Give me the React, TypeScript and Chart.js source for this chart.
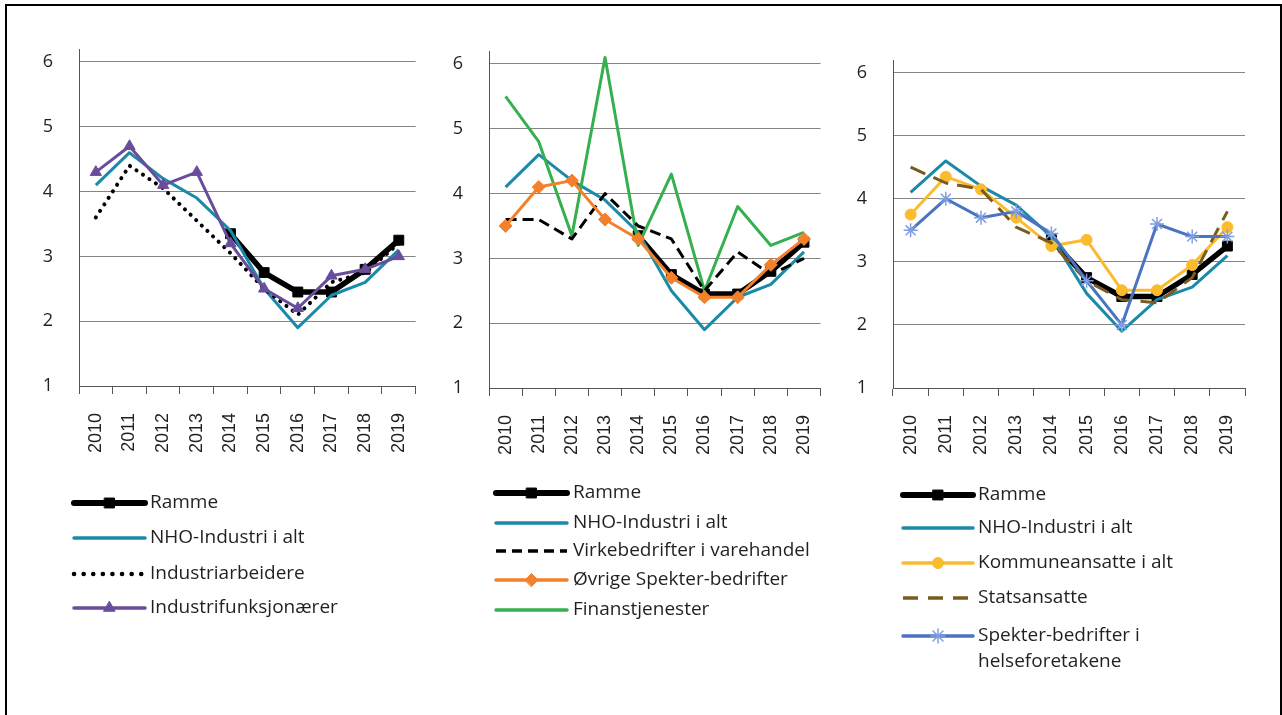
import React, { useEffect, useRef } from "react";
import { Chart, registerables } from "chart.js";
import { drawPoint } from "chart.js/helpers";

Chart.register(...registerables);

// ---------- data ----------
const years = ["2010", "2011", "2012", "2013", "2014", "2015", "2016", "2017", "2018", "2019"];
const yTickValues = [1, 2, 3, 4, 5, 6];

const ramme = [null, null, null, null, 3.35, 2.75, 2.45, 2.45, 2.8, 3.25];
const nhoIndustri = [4.1, 4.6, 4.2, 3.9, 3.4, 2.5, 1.9, 2.4, 2.6, 3.1];
const industriarbeidere = [3.6, 4.4, 4.05, 3.55, 3.05, 2.5, 2.1, 2.6, 2.75, 3.2];
const industrifunksjonaerer = [4.3, 4.7, 4.1, 4.3, 3.2, 2.5, 2.2, 2.7, 2.8, 3.0];
const virkeVarehandel = [3.6, 3.6, 3.3, 4.0, 3.5, 3.3, 2.5, 3.1, 2.75, 3.0];
const ovrigeSpekter = [3.5, 4.1, 4.2, 3.6, 3.3, 2.7, 2.4, 2.4, 2.9, 3.3];
const finanstjenester = [5.5, 4.8, 3.35, 6.1, 3.2, 4.3, 2.5, 3.8, 3.2, 3.4];
const kommuneansatte = [3.75, 4.35, 4.15, 3.7, 3.25, 3.35, 2.55, 2.55, 2.95, 3.55];
const statsansatte = [4.5, 4.25, 4.15, 3.55, 3.3, 2.7, 2.4, 2.35, 2.75, 3.8];
const spekterHelse = [3.5, 4.0, 3.7, 3.8, 3.45, 2.7, 2.0, 3.6, 3.4, 3.4];

// ---------- styles ----------
type Style = {
  color: string;
  width: number;
  dash?: number[];
  cap?: CanvasLineCap;
  point?: string;
  radius?: number;
  pointStroke?: string;
  pointBorder?: number;
  legendWidth?: number;
  legendDash?: number[];
};

const sRamme: Style = { color: "#000000", width: 5.5, cap: "round", point: "rect", radius: 7, pointBorder: 1, legendWidth: 6 };
const sNho: Style = { color: "#1b8aa8", width: 3, legendWidth: 3.5 };
const sArb: Style = { color: "#000000", width: 4, dash: [0.1, 7.7], cap: "round", legendWidth: 4.5, legendDash: [0.1, 9.5] };
const sFunk: Style = { color: "#6a4c9c", width: 3, point: "triangle", radius: 6.5, pointBorder: 1, legendWidth: 3.5 };
const sVirke: Style = { color: "#000000", width: 3, dash: [11, 6], legendWidth: 3.5, legendDash: [10, 6] };
const sOvrige: Style = { color: "#f3802b", width: 3, point: "rectRot", radius: 6.5, pointBorder: 1, legendWidth: 3.5 };
const sFinans: Style = { color: "#36b04f", width: 3, legendWidth: 3.5 };
const sKommune: Style = { color: "#fbbb2e", width: 3, point: "circle", radius: 5.5, pointBorder: 1, legendWidth: 3.5 };
const sStat: Style = { color: "#7a5b1f", width: 3, dash: [16, 9], legendWidth: 3.5, legendDash: [15, 10] };
const sHelse: Style = { color: "#4a74c2", width: 3, point: "star", radius: 7, pointStroke: "#7f9de0", pointBorder: 1.5, legendWidth: 3.5 };

function makeDataset(label: string, data: (number | null)[], s: Style, order: number, legendLines?: string[]) {
  return {
    label,
    data,
    borderColor: s.color,
    backgroundColor: s.color,
    borderWidth: s.width,
    borderDash: s.dash || [],
    borderCapStyle: s.cap || "butt",
    borderJoinStyle: "round",
    pointStyle: s.point || "circle",
    pointRadius: s.point ? s.radius : 0,
    pointHoverRadius: s.point ? s.radius : 0,
    pointBackgroundColor: s.color,
    pointBorderColor: s.pointStroke || s.color,
    pointBorderWidth: s.pointBorder ?? 1,
    tension: 0,
    fill: false,
    order,
    legendStyle: s,
    legendLines: legendLines || [label],
  };
}

// ---------- legend plugin ----------
const legendPlugin = {
  id: "customLegend",
  afterDraw(chart: any, _args: any, opts: any) {
    const ctx: CanvasRenderingContext2D = chart.ctx;
    const { x0, x1, textX, rows } = opts;
    chart.data.datasets.forEach((ds: any, i: number) => {
      const s: Style = ds.legendStyle;
      const y = rows[i];
      ctx.save();
      ctx.strokeStyle = s.color;
      ctx.lineWidth = s.legendWidth ?? s.width;
      ctx.lineCap = s.dash ? s.cap || "butt" : "round";
      ctx.setLineDash(s.legendDash || s.dash || []);
      ctx.beginPath();
      ctx.moveTo(x0, y);
      ctx.lineTo(x1, y);
      ctx.stroke();
      ctx.setLineDash([]);
      if (s.point) {
        ctx.fillStyle = s.color;
        ctx.strokeStyle = s.pointStroke || s.color;
        ctx.lineWidth = s.pointBorder ?? 1;
        drawPoint(ctx, { pointStyle: s.point as any, rotation: 0, borderWidth: s.pointBorder ?? 1, radius: s.radius }, (x0 + x1) / 2, y);
      }
      ctx.fillStyle = "#231f20";
      ctx.font = '19px "Open Sans"';
      ctx.textAlign = "left";
      ctx.textBaseline = "middle";
      (ds.legendLines as string[]).forEach((t, k) => {
        ctx.fillText(t, textX, y + k * 26);
      });
      ctx.restore();
    });
  },
};

type PanelProps = {
  left: number;
  width: number;
  yWidth: number;
  top: number;
  bottom: number;
  right: number;
  datasets: any[];
  legend: { x0: number; x1: number; textX: number; rows: number[] };
};

const H = 715;
const X_AXIS_H = 90;

function Panel({ left, width, yWidth, top, bottom, right, datasets, legend }: PanelProps) {
  const ref = useRef<HTMLCanvasElement>(null);
  useEffect(() => {
    const chart = new Chart(ref.current as HTMLCanvasElement, {
      type: "line",
      data: { labels: years, datasets: datasets as any },
      options: {
        responsive: false,
        animation: false,
        events: [],
        layout: { padding: { left: 0, right, top, bottom: H - bottom - X_AXIS_H } },
        plugins: {
          legend: { display: false },
          tooltip: { enabled: false },
          customLegend: legend,
        } as any,
        scales: {
          x: {
            type: "category",
            offset: true,
            afterFit: (scale: any) => {
              scale.height = X_AXIS_H;
            },
            grid: {
              offset: true,
              drawOnChartArea: false,
              drawTicks: true,
              tickLength: 8,
              color: "#555555",
              lineWidth: 1,
            },
            border: { display: true, color: "#555555", width: 1 },
            ticks: {
              autoSkip: false,
              minRotation: 90,
              maxRotation: 90,
              padding: 19,
              color: "#231f20",
              font: { family: '"Liberation Sans", Arial, sans-serif', size: 18 },
            },
          },
          y: {
            type: "linear",
            min: 1,
            max: 6.2,
            afterFit: (scale: any) => {
              scale.width = yWidth;
            },
            afterBuildTicks: (scale: any) => {
              scale.ticks = yTickValues.map((v) => ({ value: v }));
            },
            grid: {
              drawTicks: false,
              color: "#858585",
              lineWidth: 1,
            },
            border: { display: true, color: "#555555", width: 1 },
            ticks: {
              stepSize: 1,
              padding: 26,
              color: "#231f20",
              font: { family: '"Open Sans", sans-serif', size: 18 },
              callback: (v: any) => String(v),
            },
          },
        },
      },
      plugins: [legendPlugin as any],
    });
    return () => chart.destroy();
  }, []);
  return <canvas ref={ref} width={width} height={H} style={{ position: "absolute", left, top: 0 }} />;
}

const panel1 = [
  makeDataset("Ramme", ramme, sRamme, 4),
  makeDataset("NHO-Industri i alt", nhoIndustri, sNho, 3),
  makeDataset("Industriarbeidere", industriarbeidere, sArb, 2),
  makeDataset("Industrifunksjonærer", industrifunksjonaerer, sFunk, 1),
];

const panel2 = [
  makeDataset("Ramme", ramme, sRamme, 5),
  makeDataset("NHO-Industri i alt", nhoIndustri, sNho, 4),
  makeDataset("Virkebedrifter i varehandel", virkeVarehandel, sVirke, 2),
  makeDataset("Øvrige Spekter-bedrifter", ovrigeSpekter, sOvrige, 1),
  makeDataset("Finanstjenester", finanstjenester, sFinans, 3),
];

const panel3 = [
  makeDataset("Ramme", ramme, sRamme, 5),
  makeDataset("NHO-Industri i alt", nhoIndustri, sNho, 4),
  makeDataset("Kommuneansatte i alt", kommuneansatte, sKommune, 3),
  makeDataset("Statsansatte", statsansatte, sStat, 2),
  makeDataset("Spekter-bedrifter i helseforetakene", spekterHelse, sHelse, 1, ["Spekter-bedrifter i", "helseforetakene"]),
];

export default function App() {
  return (
    <div style={{ position: "fixed", left: 0, top: 0, width: 1282, height: 715, background: "#ffffff", overflow: "hidden" }}>
      <Panel
        left={0}
        width={440}
        yWidth={79}
        top={49}
        bottom={386}
        right={12}
        datasets={panel1}
        legend={{ x0: 74, x1: 145, textX: 150, rows: [503, 538, 574, 608] }}
      />
      <Panel
        left={440}
        width={405}
        yWidth={49}
        top={51}
        bottom={388}
        right={3}
        datasets={panel2}
        legend={{ x0: 56, x1: 127, textX: 133, rows: [493, 523, 551, 580, 610] }}
      />
      <Panel
        left={845}
        width={437}
        yWidth={48}
        top={60}
        bottom={388}
        right={37}
        datasets={panel3}
        legend={{ x0: 58, x1: 128, textX: 133, rows: [495, 528, 563, 598, 636] }}
      />
      <div
        style={{
          position: "absolute",
          left: 5,
          top: 4,
          width: 1277,
          height: 800,
          border: "2px solid #000",
          boxSizing: "border-box",
          pointerEvents: "none",
        }}
      />
    </div>
  );
}
